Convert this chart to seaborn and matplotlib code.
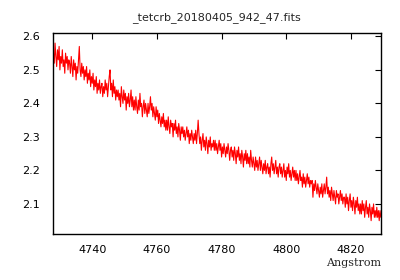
import numpy as np
import matplotlib
matplotlib.use("Agg")
import matplotlib.pyplot as plt
import seaborn as sns

title = "_tetcrb_20180405_942_47.fits"
xlabel = "Angstrom"
wave_start = 4728.0
wave_step = 0.25
flux = [
    2.55, 2.52, 2.58, 2.54, 2.51, 2.56, 2.53, 2.57, 2.50, 2.54, 2.52, 2.56, 2.51, 2.53, 2.49, 2.55, 2.52, 2.54, 2.50, 2.53,
    2.52, 2.49, 2.54, 2.51, 2.48, 2.53, 2.50, 2.52, 2.47, 2.51, 2.49, 2.53, 2.57, 2.50, 2.48, 2.52, 2.49, 2.51, 2.47, 2.50,
    2.48, 2.51, 2.46, 2.49, 2.47, 2.50, 2.45, 2.48, 2.46, 2.49, 2.44, 2.47, 2.45, 2.48, 2.43, 2.46, 2.44, 2.47, 2.43, 2.45,
    2.46, 2.42, 2.45, 2.43, 2.47, 2.44, 2.46, 2.42, 2.45, 2.48, 2.50, 2.44, 2.46, 2.42, 2.47, 2.43, 2.45, 2.41, 2.44, 2.42,
    2.44, 2.41, 2.43, 2.39, 2.45, 2.42, 2.40, 2.44, 2.41, 2.43, 2.38, 2.42, 2.40, 2.43, 2.39, 2.41, 2.44, 2.39, 2.42, 2.38,
    2.41, 2.38, 2.42, 2.39, 2.37, 2.41, 2.38, 2.43, 2.39, 2.40, 2.36, 2.39, 2.41, 2.37, 2.40, 2.38, 2.36, 2.40, 2.37, 2.39,
    2.42, 2.38, 2.40, 2.36, 2.39, 2.37, 2.35, 2.39, 2.36, 2.38, 2.34, 2.37, 2.35, 2.33, 2.36, 2.34, 2.37, 2.33, 2.35, 2.32,
    2.35, 2.32, 2.36, 2.33, 2.31, 2.35, 2.33, 2.34, 2.30, 2.34, 2.32, 2.35, 2.31, 2.33, 2.30, 2.34, 2.32, 2.29, 2.33, 2.31,
    2.33, 2.30, 2.32, 2.29, 2.31, 2.33, 2.30, 2.32, 2.28, 2.31, 2.29, 2.32, 2.30, 2.28, 2.31, 2.29, 2.32, 2.28, 2.31, 2.35,
    2.31, 2.28, 2.30, 2.26, 2.29, 2.31, 2.27, 2.29, 2.26, 2.30, 2.28, 2.25, 2.29, 2.27, 2.30, 2.26, 2.28, 2.27, 2.29, 2.26,
    2.29, 2.26, 2.28, 2.25, 2.27, 2.29, 2.26, 2.28, 2.24, 2.27, 2.25, 2.28, 2.26, 2.24, 2.27, 2.25, 2.28, 2.26, 2.23, 2.26,
    2.27, 2.24, 2.26, 2.23, 2.27, 2.25, 2.22, 2.26, 2.24, 2.27, 2.23, 2.25, 2.22, 2.26, 2.24, 2.21, 2.25, 2.23, 2.26, 2.22,
    2.25, 2.22, 2.24, 2.21, 2.26, 2.23, 2.21, 2.24, 2.22, 2.20, 2.24, 2.21, 2.23, 2.20, 2.22, 2.24, 2.20, 2.23, 2.21, 2.19,
    2.22, 2.20, 2.23, 2.19, 2.21, 2.22, 2.19, 2.21, 2.18, 2.22, 2.24, 2.20, 2.22, 2.19, 2.21, 2.23, 2.19, 2.21, 2.18, 2.21,
    2.22, 2.19, 2.21, 2.18, 2.20, 2.22, 2.18, 2.20, 2.17, 2.21, 2.19, 2.22, 2.18, 2.20, 2.17, 2.19, 2.21, 2.18, 2.20, 2.17,
    2.20, 2.17, 2.19, 2.16, 2.18, 2.20, 2.17, 2.18, 2.15, 2.19, 2.16, 2.18, 2.15, 2.17, 2.19, 2.16, 2.18, 2.15, 2.17, 2.16,
    2.17, 2.12, 2.16, 2.14, 2.17, 2.15, 2.13, 2.16, 2.14, 2.12, 2.15, 2.13, 2.16, 2.12, 2.14, 2.16, 2.13, 2.15, 2.18, 2.13,
    2.15, 2.12, 2.14, 2.11, 2.15, 2.13, 2.11, 2.14, 2.12, 2.10, 2.14, 2.12, 2.13, 2.10, 2.12, 2.14, 2.11, 2.13, 2.10, 2.12,
    2.12, 2.09, 2.13, 2.10, 2.12, 2.08, 2.11, 2.13, 2.09, 2.11, 2.08, 2.12, 2.10, 2.07, 2.11, 2.09, 2.12, 2.08, 2.10, 2.07,
    2.10, 2.07, 2.11, 2.08, 2.10, 2.06, 2.09, 2.11, 2.07, 2.09, 2.06, 2.10, 2.08, 2.05, 2.09, 2.07, 2.10, 2.06, 2.08, 2.06,
    2.09, 2.06, 2.08, 2.05, 2.08, 2.06,
]
wave = wave_start + wave_step * np.arange(len(flux))
xticks = [4740, 4760, 4780, 4800, 4820]
yticks = [2.1, 2.2, 2.3, 2.4, 2.5, 2.6]

sns.set_style("white")
plt.rcParams['font.family'] = ['DejaVu Sans']

fig = plt.figure(figsize=(4, 2.8), dpi=100)
ax = fig.add_axes([0.132, 0.164, 0.8205, 0.718])
sns.lineplot(x=wave, y=flux, color="#ff0000", linewidth=0.8, ax=ax)

ax.set_xlim(4727.8, 4829.3)
ax.set_ylim(2.01, 2.61)
ax.set_xticks(xticks)
ax.set_yticks(yticks)
ax.set_xticklabels([str(t) for t in xticks])
ax.set_yticklabels([f"{t:.1f}" for t in yticks])
ax.tick_params(direction="in", length=4, width=0.8, top=True, right=True,
               labelsize=8, colors="black")
ax.tick_params(axis="y", pad=9)
ax.tick_params(axis="x", pad=8)
for s in ax.spines.values():
    s.set_color("black")
    s.set_linewidth(1.0)
ax.set_title(title, fontsize=8, pad=9)
ax.set_xlabel(xlabel, loc="right", fontsize=8, family="DejaVu Serif", labelpad=2)
ax.set_ylabel("")
fig.savefig("out.png", dpi=100)
